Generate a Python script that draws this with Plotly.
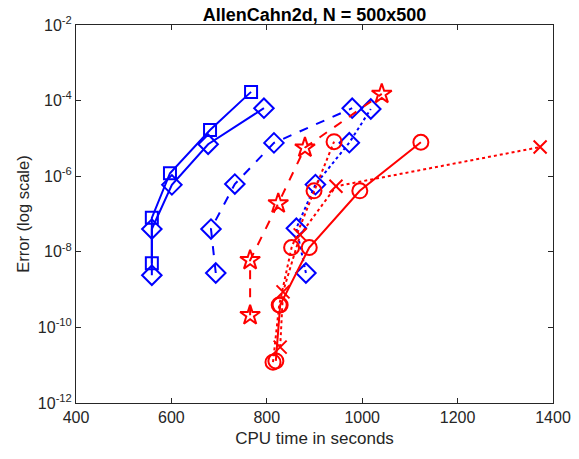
import plotly.graph_objects as go

# Blue solid, squares
bs_sq_x = [559, 559, 597, 681, 767]
bs_sq_y = [5e-9, 7.9e-8, 1.2e-6, 1.66e-5, 1.7e-4]
# Blue solid, diamonds
bs_di_x = [559, 559, 601, 677, 794]
bs_di_y = [2.4e-9, 4e-8, 5.9e-7, 7e-6, 6.3e-5]
# Blue dashed, diamonds
bd_di_x = [693, 683, 733, 815, 979]
bd_di_y = [2.75e-9, 4e-8, 6.2e-7, 7.6e-6, 6.3e-5]
# Blue dotted, diamonds
bo_di_x = [882, 862, 902, 973, 1018]
bo_di_y = [2.75e-9, 4.2e-8, 6e-7, 7.7e-6, 6e-5]
# Red dashed, stars
rd_st_x = [765, 765, 824, 880, 1041]
rd_st_y = [2.1e-10, 6e-9, 1.9e-7, 5.7e-6, 1.5e-4]
# Red solid, circles
rs_ci_x = [819, 828, 889, 995, 1123]
rs_ci_y = [1.3e-11, 3.9e-10, 1.3e-8, 4.1e-7, 7.9e-6]
# Red dotted, circles
ro_ci_x = [813, 826, 852, 899, 941]
ro_ci_y = [1.2e-11, 3.9e-10, 1.3e-8, 4.1e-7, 8.2e-6]
# Red dotted, crosses
ro_x_x = [828, 834, 870, 945, 1373]
ro_x_y = [3e-11, 8.7e-10, 2.8e-8, 5.4e-7, 5.9e-6]

y_tick_exp = [-12, -10, -8, -6, -4, -2]
x_ticks = [400, 600, 800, 1000, 1200, 1400]

BLUE = "rgb(0,0,255)"
RED = "rgb(255,0,0)"

series = [
    (bs_sq_x, bs_sq_y, BLUE, "solid", "square-open", 12),
    (bs_di_x, bs_di_y, BLUE, "solid", "diamond-open", 15),
    (bd_di_x, bd_di_y, BLUE, "dash", "diamond-open", 15),
    (bo_di_x, bo_di_y, BLUE, "dot", "diamond-open", 15),
    (rd_st_x, rd_st_y, RED, "dash", "star-open", 15),
    (rs_ci_x, rs_ci_y, RED, "solid", "circle-open", 15),
    (ro_ci_x, ro_ci_y, RED, "dot", "circle-open", 15),
    (ro_x_x, ro_x_y, RED, "dot", "x-thin-open", 13),
]

fig = go.Figure()
for xs, ys, col, dash, sym, sz in series:
    fig.add_trace(go.Scatter(
        x=xs, y=ys, mode="lines+markers",
        line=dict(color=col, width=2, dash=dash),
        marker=dict(symbol=sym, size=sz, color=col, line=dict(color=col, width=2)),
        showlegend=False,
    ))

FAM = "Liberation Sans, Arial, sans-serif"
W, H = 579, 459
axis_col = "rgb(38,38,38)"
fig.update_layout(
    width=W, height=H,
    margin=dict(l=76, r=26, t=25, b=56),
    paper_bgcolor="white", plot_bgcolor="white",
    font=dict(family=FAM, size=16, color=axis_col),
    title=dict(text="<b>AllenCahn2d, N = 500x500</b>", x=(76 + W - 26) / 2 / W, xanchor="center",
               y=1 - 15 / H, yanchor="middle", font=dict(family=FAM, size=18, color="black")),
    xaxis=dict(range=[400, 1400], tickvals=x_ticks, ticktext=[str(v) for v in x_ticks],
               ticks="inside", ticklen=5, tickcolor=axis_col, showline=True,
               linecolor=axis_col, linewidth=1, mirror="allticks", showgrid=False,
               zeroline=False, automargin=False,
               tickfont=dict(family=FAM, size=16, color=axis_col),
               title=dict(text="CPU time in seconds", standoff=6,
                          font=dict(family=FAM, size=17, color=axis_col))),
    yaxis=dict(type="log", range=[-12, -2], tickvals=[10**e for e in y_tick_exp],
               ticktext=["10<sup>%d</sup>" % e for e in y_tick_exp],
               ticks="inside", ticklen=5, tickcolor=axis_col, showline=True,
               linecolor=axis_col, linewidth=1, mirror="allticks", showgrid=False,
               zeroline=False, automargin=False,
               tickfont=dict(family=FAM, size=16, color=axis_col),
               title=dict(text="Error (log scale)", standoff=4,
                          font=dict(family=FAM, size=16.5, color=axis_col))),
)
fig.write_html("out.html", config={"displayModeBar": False},
               post_script="document.body.style.margin='0';")
